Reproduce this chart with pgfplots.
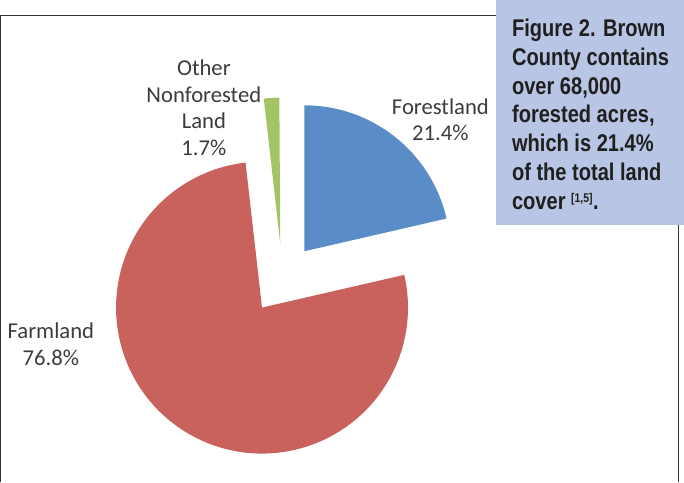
\documentclass[border=0pt]{standalone}
\usepackage{fontspec}
\usepackage{pgfplots}
\pgfplotsset{compat=1.18}
\newfontfamily\carlito{Carlito}
\newfontfamily\condbold[FakeStretch=0.83]{Liberation Sans}
\definecolor{cforest}{HTML}{5A8DC8}
\definecolor{cfarm}{HTML}{C9625C}
\definecolor{cother}{HTML}{A2C465}
\definecolor{cbox}{HTML}{B8C5E4}
\definecolor{ctext}{HTML}{3C3C3C}
% pie values (percent)
\def\vForest{21.4}
\def\vFarm{76.8}
\def\vOther{1.7}
\begin{document}
\begin{tikzpicture}
\begin{axis}[width=684pt,height=479pt,scale only axis,
  xmin=0,xmax=684,ymin=0,ymax=479,hide axis,clip=false]
% frame
\draw[line width=1pt,black!80] (axis cs:5,0) -- (axis cs:5,464) -- (axis cs:679,464) -- (axis cs:679,0);
% pie slices (start at 90 deg, clockwise), exploded
\pgfmathsetmacro\aA{90}
\pgfmathsetmacro\aB{90-3.6*\vForest}
\pgfmathsetmacro\aC{\aB-3.6*\vFarm}
\pgfmathsetmacro\aD{\aC-3.6*\vOther}
\pgfmathsetmacro\mA{(\aA+\aB)/2}
\pgfmathsetmacro\mB{(\aB+\aC)/2}
\pgfmathsetmacro\mC{(\aC+\aD)/2}
\fill[cforest] (axis cs:285,202) ++(\mA:35pt) -- ++(\aA:145pt) arc[start angle=\aA,end angle=\aB,radius=145pt] -- cycle;
\fill[cfarm] (axis cs:285,202) ++(\mB:35pt) -- ++(\aB:145pt) arc[start angle=\aB,end angle=\aC,radius=145pt] -- cycle;
\fill[cother] (axis cs:285,202) ++(\mC:35pt) -- ++(\aC:145pt) arc[start angle=\aC,end angle=\aD,radius=145pt] -- cycle;
% labels
\node[align=center,text=ctext,font=\carlito\fontsize{22.5}{26.5}\selectfont] at (axis cs:207,372) {Other\\Nonforested\\Land\\1.7\%};
\node[align=center,text=ctext,font=\carlito\fontsize{22.5}{26.5}\selectfont] at (axis cs:442,360) {Forestland\\21.4\%};
\node[align=center,text=ctext,font=\carlito\fontsize{22.5}{26.5}\selectfont] at (axis cs:55,137) {Farmland\\76.8\%};
% caption box
\fill[cbox] (axis cs:497,255) rectangle (axis cs:684,479);
\node[anchor=north west,align=left,inner sep=0pt,text=black!88,font=\condbold\bfseries\fontsize{24}{28.7}\selectfont] at (axis cs:513,460.5) {Figure 2. Brown\\County contains\\over 68,000\\forested acres,\\which is 21.4\%\\of the total land\\cover \raisebox{7pt}{\fontsize{12.5}{12.5}\selectfont [1,5]}\kern0.5pt.};
\end{axis}
\end{tikzpicture}
\end{document}
